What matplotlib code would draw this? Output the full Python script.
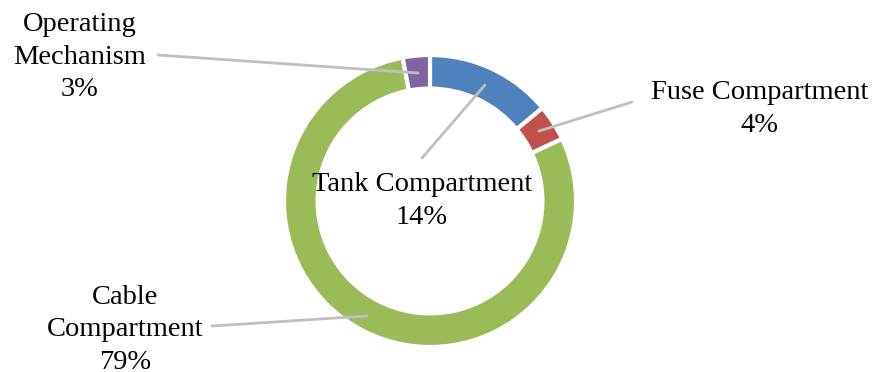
import matplotlib
matplotlib.use('Agg')
from matplotlib import pyplot as plt

# 資料
labels = ['Tank Compartment', 'Fuse Compartment', 'Cable Compartment', 'Operating Mechanism']
values = [14, 4, 79, 3]
colors = ['#4F81BD', '#C0504D', '#9BBB59', '#8064A2']
label_texts = ['Tank Compartment\n14%', 'Fuse Compartment\n4%',
               'Cable\nCompartment\n79%', 'Operating\nMechanism\n3%']

plt.rcParams['font.family'] = ['Liberation Serif', 'DejaVu Serif']

W, H = 887, 372
fig = plt.figure(figsize=(W / 100, H / 100), dpi=100)
ax = fig.add_axes([0, 0, 1, 1])

cx, cy, r = 430, H - 201, 146
ax.pie(values, colors=colors, startangle=90, counterclock=False,
       center=(cx, cy), radius=r, frame=True,
       wedgeprops=dict(width=r * 0.23, edgecolor='white', linewidth=3))
ax.set_xlim(0, W)
ax.set_ylim(0, H)
ax.set_aspect('equal')
ax.axis('off')

# 標籤位置 (像素座標, 自上而下)
text_pos = [(422, 201), (760, 109), (125, 330), (80, 57)]
line_pts = [[(422, 158), (485, 85)],
            [(632, 102), (539, 131)],
            [(212, 326), (367, 316)],
            [(158, 55), (418, 73)]]

for txt, (tx, ty), pts in zip(label_texts, text_pos, line_pts):
    xs = [p[0] for p in pts]
    ys = [H - p[1] for p in pts]
    ax.plot(xs, ys, color='#BFBFBF', lw=2, solid_capstyle='round', zorder=5)
    ax.text(tx, H - ty, txt, ha='center', va='center', fontsize=20.5,
            linespacing=1.38, color='black', zorder=6)

fig.savefig('out.png', dpi=100)
